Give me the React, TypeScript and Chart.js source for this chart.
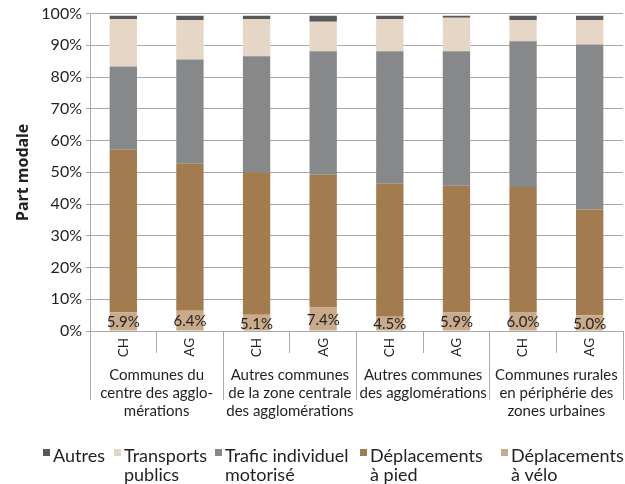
import React, { useEffect, useRef } from 'react';
import { Chart, registerables } from 'chart.js';

Chart.register(...registerables);

const FONT = 'Lato';
const TEXT = '#231f20';
const GRID = '#aaaaaa';

const categories = ['CH', 'AG', 'CH', 'AG', 'CH', 'AG', 'CH', 'AG'];
const groups = [
  ['Communes du', 'centre des agglo-', 'mérations'],
  ['Autres communes', 'de la zone centrale', 'des agglomérations'],
  ['Autres communes', 'des agglomérations'],
  ['Communes rurales', 'en périphérie des', 'zones urbaines'],
];

const velo = [5.9, 6.4, 5.1, 7.4, 4.5, 5.9, 6.0, 5.0];
const pied = [51.2, 46.3, 44.9, 41.8, 41.9, 39.9, 39.4, 33.3];
const tim = [26.2, 32.8, 36.6, 38.9, 41.7, 42.3, 45.9, 52.0];
const tp = [14.9, 12.4, 11.7, 9.3, 10.1, 10.6, 6.6, 7.6];
const autres = [1.1, 1.4, 1.0, 1.9, 1.1, 0.6, 1.4, 1.4];

const seriesNames = ['Déplacements à vélo', 'Déplacements à pied', 'Trafic individuel motorisé', 'Transports publics', 'Autres'];
const seriesColors = ['#c9aa8b', '#a27b4f', '#87888a', '#e6d6c6', '#59595b'];

const legendItems = [
  { lines: ['Autres'], color: '#59595b' },
  { lines: ['Transports', 'publics'], color: '#e6d6c6' },
  { lines: ['Trafic individuel', 'motorisé'], color: '#87888a' },
  { lines: ['Déplacements', 'à pied'], color: '#a27b4f' },
  { lines: ['Déplacements', 'à vélo'], color: '#c9aa8b' },
];
const legendBoxX = [43, 114, 215, 360, 501];

const valueLabels = {
  id: 'valueLabels',
  afterDatasetsDraw(chart: any) {
    const meta = chart.getDatasetMeta(0);
    const ctx = chart.ctx;
    ctx.save();
    ctx.font = `15px ${FONT}`;
    ctx.fillStyle = TEXT;
    ctx.textAlign = 'center';
    ctx.textBaseline = 'middle';
    meta.data.forEach((bar: any, i: number) => {
      const v = chart.data.datasets[0].data[i] as number;
      ctx.fillText(v.toFixed(1) + '%', bar.x, (bar.y + bar.base) / 2 + 1);
    });
    ctx.restore();
  },
};

const customLegend = {
  id: 'customLegend',
  afterDraw(chart: any) {
    const ctx = chart.ctx;
    ctx.save();
    ctx.font = `18px ${FONT}`;
    ctx.textAlign = 'left';
    ctx.textBaseline = 'alphabetic';
    legendItems.forEach((item, i) => {
      const x = legendBoxX[i];
      ctx.fillStyle = item.color;
      ctx.fillRect(x, 449, 7, 7);
      ctx.fillStyle = TEXT;
      item.lines.forEach((line, j) => {
        ctx.fillText(line, x + 10, 462 + j * 19);
      });
    });
    ctx.restore();
  },
};

// let tick labels of the category rows spill outside their own axis box
const noLabelClip = (scale: any) => {
  scale._computeLabelArea = () => undefined;
};

export default function App() {
  const ref = useRef<HTMLCanvasElement>(null);
  useEffect(() => {
    document.body.style.margin = '0';
    const data = [velo, pied, tim, tp, autres];
    const chart = new Chart(ref.current as HTMLCanvasElement, {
      type: 'bar',
      data: {
        labels: categories,
        datasets: data.map((d, i) => ({
          label: seriesNames[i],
          data: d,
          backgroundColor: seriesColors[i],
          borderWidth: 0,
          barPercentage: 0.41,
          categoryPercentage: 1,
        })),
      },
      options: {
        animation: false,
        responsive: true,
        maintainAspectRatio: false,
        layout: { padding: { top: 11, right: 2, bottom: 65, left: 0 } },
        plugins: {
          legend: { display: false },
          tooltip: { enabled: false },
        },
        scales: {
          x: {
            type: 'category',
            stacked: true,
            position: 'bottom',
            offset: true,
            grid: { offset: true, drawOnChartArea: false, drawTicks: true, tickLength: 22, color: GRID },
            border: { display: true, color: GRID },
            ticks: {
              autoSkip: false,
              minRotation: 90,
              maxRotation: 90,
              padding: -15,
              color: TEXT,
              font: { family: FONT, size: 13.5 },
            },
            afterFit(scale: any) {
              scale.height = 22;
              noLabelClip(scale);
            },
          },
          x2: {
            type: 'category',
            position: 'bottom',
            labels: groups as any,
            offset: true,
            grid: { offset: true, drawOnChartArea: false, drawTicks: true, tickLength: 47, color: GRID },
            border: { display: false },
            ticks: {
              autoSkip: false,
              maxRotation: 0,
              minRotation: 0,
              padding: -34,
              color: TEXT,
              font: { family: FONT, size: 15, lineHeight: 1.2 },
            },
            afterFit(scale: any) {
              scale.height = 66;
              noLabelClip(scale);
            },
          },
          y: {
            stacked: true,
            min: 0,
            max: 100,
            grid: { color: GRID, tickLength: 4 },
            border: { display: true, color: GRID },
            ticks: {
              stepSize: 10,
              padding: 4,
              color: TEXT,
              font: { family: FONT, size: 16 },
              callback: (v: any) => v + '%',
            },
            title: {
              display: true,
              text: 'Part modale',
              color: TEXT,
              font: { family: '"Noto Sans"', size: 16, weight: 'bold' },
              padding: { top: 14, bottom: 0 },
            },
            afterFit(scale: any) {
              scale.width = 90;
            },
          },
        },
      } as any,
      plugins: [valueLabels, customLegend],
    });
    return () => chart.destroy();
  }, []);
  return (
    <div style={{ width: 625, height: 484, position: 'relative' }}>
      <canvas ref={ref} />
    </div>
  );
}
